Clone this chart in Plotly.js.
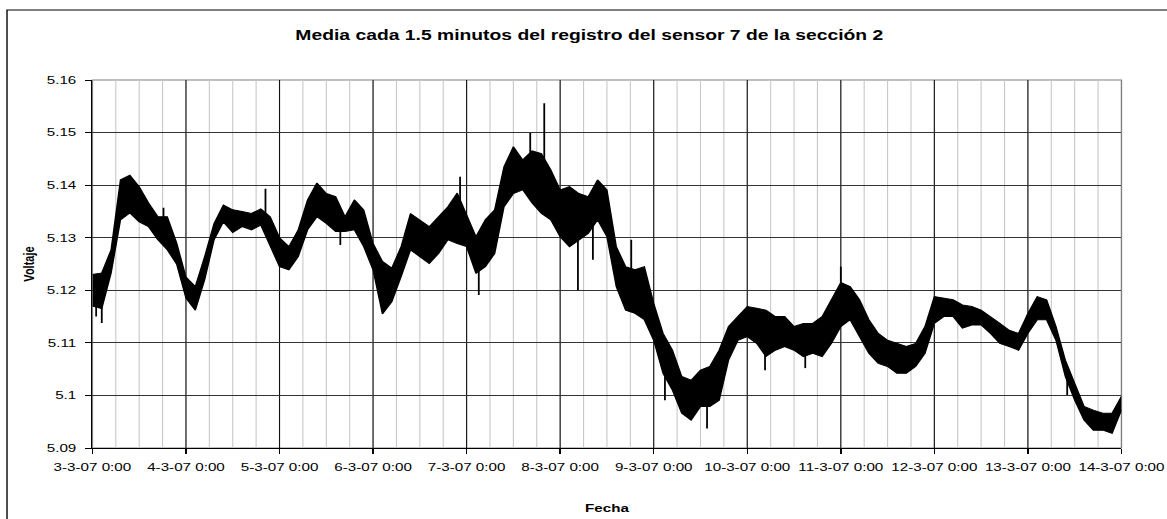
<!DOCTYPE html>
<html>
<head>
<meta charset="utf-8">
<script src="https://cdn.plot.ly/plotly-3.0.1.min.js"></script>
<style>
html,body{margin:0;padding:0;background:#fff;overflow:hidden;}
#chart{width:846px;height:519px;transform:scaleX(1.3794);transform-origin:0 0;}
</style>
</head>
<body>
<div id="chart"></div>
<script>
// Tick labels
const xTickLabels = ['3-3-07 0:00','4-3-07 0:00','5-3-07 0:00','6-3-07 0:00','7-3-07 0:00','8-3-07 0:00',
  '9-3-07 0:00','10-3-07 0:00','11-3-07 0:00','12-3-07 0:00','13-3-07 0:00','14-3-07 0:00'];
const yTickVals = [5.09,5.10,5.11,5.12,5.13,5.14,5.15,5.16];
const yTickText = ['5.09','5.1','5.11','5.12','5.13','5.14','5.15','5.16'];

// Upper and lower edge of the dense band of 1.5-minute means, read every 0.1 day (2.4 h) from 3-3-07 0:00
const voltajeMax = [
5.1230,5.1233,5.1277,5.1410,5.1419,5.1397,5.1366,5.1340,5.1340,5.1290,
5.1225,5.1207,5.1264,5.1327,5.1362,5.1353,5.1350,5.1346,5.1355,5.1340,
5.1300,5.1283,5.1315,5.1372,5.1404,5.1384,5.1378,5.1340,5.1372,5.1353,
5.1289,5.1255,5.1242,5.1283,5.1346,5.1334,5.1321,5.1340,5.1359,5.1385,
5.1345,5.1302,5.1334,5.1353,5.1435,5.1473,5.1448,5.1465,5.1460,5.1429,
5.1391,5.1397,5.1384,5.1378,5.1410,5.1391,5.1283,5.1245,5.1239,5.1245,
5.1175,5.1118,5.1086,5.1036,5.1029,5.1048,5.1055,5.1086,5.1131,5.1150,
5.1169,5.1166,5.1162,5.1150,5.1150,5.1131,5.1137,5.1137,5.1150,5.1182,
5.1215,5.1207,5.1182,5.1144,5.1118,5.1105,5.1099,5.1093,5.1099,5.1131,
5.1188,5.1185,5.1182,5.1172,5.1169,5.1162,5.1150,5.1137,5.1124,5.1118,
5.1156,5.1188,5.1182,5.1131,5.1067,5.1023,5.0979,5.0972,5.0966,5.0966,
5.0998];
const voltajeMin = [
5.1170,5.1165,5.1233,5.1334,5.1347,5.1330,5.1321,5.1296,5.1277,5.1250,
5.1185,5.1162,5.1220,5.1296,5.1330,5.1310,5.1321,5.1315,5.1324,5.1283,
5.1245,5.1239,5.1264,5.1315,5.1340,5.1327,5.1312,5.1312,5.1315,5.1283,
5.1239,5.1155,5.1178,5.1226,5.1277,5.1264,5.1251,5.1270,5.1296,5.1289,
5.1283,5.1232,5.1245,5.1270,5.1359,5.1384,5.1391,5.1366,5.1346,5.1334,
5.1302,5.1283,5.1296,5.1308,5.1334,5.1302,5.1207,5.1162,5.1156,5.1144,
5.1105,5.1042,5.1010,5.0966,5.0953,5.0979,5.0979,5.0991,5.1067,5.1105,
5.1112,5.1099,5.1074,5.1086,5.1093,5.1086,5.1074,5.1080,5.1074,5.1099,
5.1131,5.1144,5.1112,5.1080,5.1061,5.1055,5.1042,5.1042,5.1055,5.1080,
5.1137,5.1150,5.1150,5.1128,5.1134,5.1134,5.1118,5.1099,5.1093,5.1086,
5.1118,5.1144,5.1144,5.1105,5.1036,5.0991,5.0953,5.0934,5.0934,5.0928,
5.0972];

// Isolated spikes sticking out of the band: time (days after 3-3-07 0:00) and value
const picoDia = [0.04, 0.10, 0.76, 1.85, 2.65, 3.93, 4.13, 4.68, 4.83, 5.19, 5.35, 5.76, 6.12, 6.57, 7.19, 7.62, 8.00, 10.42];
const picoVolt = [5.1150,5.1138,5.1357,5.1393,5.1286,5.1416,5.1191,5.1499,5.1556,5.1200,5.1258,5.1296,5.0991,5.0937,5.1048,5.1052,5.1245,5.1001];

const start = Date.UTC(2007,2,3,0,0,0);
function fecha(d){
  const dt = new Date(start + Math.round(d*86400000));
  return dt.toISOString().slice(0,19).replace('T',' ');
}

const xEnv = voltajeMax.map((_, i) => fecha(i*0.1));
const xSp = [], ySp = [];
picoDia.forEach((d, k) => {
  const i = Math.round(d*10);
  xSp.push(fecha(d), fecha(d), null);
  ySp.push((voltajeMax[i]+voltajeMin[i])/2, picoVolt[k], null);
});
const xTickVals = xTickLabels.map((_, i) => fecha(i));

const FONT = 'Liberation Sans, Arial, sans-serif';

const traces = [
  {type:'scatter', mode:'lines', x:xEnv, y:voltajeMax, line:{color:'#000', width:1}, hoverinfo:'skip', showlegend:false},
  {type:'scatter', mode:'lines', x:xEnv, y:voltajeMin, line:{color:'#000', width:1}, fill:'tonexty', fillcolor:'#000', hoverinfo:'skip', showlegend:false},
  {type:'scatter', mode:'lines', x:xSp, y:ySp, line:{color:'#000', width:1.3}, connectgaps:false, hoverinfo:'skip', showlegend:false}
];

const layout = {
  width:846, height:519,
  margin:{l:67, r:33, t:80, b:71},
  paper_bgcolor:'#fff', plot_bgcolor:'#fff',
  font:{family:FONT, color:'#000', size:11},
  showlegend:false,
  title:{text:'Media cada 1.5 minutos del registro del sensor 7 de la sección 2',
    font:{family:FONT, size:14, weight:'bold', color:'#000'},
    xref:'container', x:0.505, xanchor:'center', yref:'container', y:1-35/519, yanchor:'middle'},
  xaxis:{
    type:'date', range:[fecha(0), fecha(11)],
    tickmode:'array', tickvals:xTickVals, ticktext:xTickLabels,
    ticks:'outside', ticklen:4.5, tickwidth:1, tickcolor:'#000', ticklabelstandoff:4,
    tickfont:{family:FONT, size:11, color:'#000'},
    showline:true, linecolor:'#000', linewidth:1,
    showgrid:true, gridcolor:'#111', gridwidth:0.8, zeroline:false,
    minor:{tickmode:'linear', tick0:fecha(0), dtick:21600000, showgrid:true, gridcolor:'#c8c8c8', gridwidth:0.8, ticks:''},
    title:{text:'Fecha', font:{family:FONT, size:11, weight:'bold', color:'#000'}, standoff:32},
    automargin:false, fixedrange:true
  },
  yaxis:{
    range:[5.09, 5.16],
    tickmode:'array', tickvals:yTickVals, ticktext:yTickText,
    ticks:'outside', ticklen:4.5, tickwidth:1, tickcolor:'#000', ticklabelstandoff:4,
    tickfont:{family:FONT, size:11, color:'#000'},
    showline:true, linecolor:'#000', linewidth:1,
    showgrid:true, gridcolor:'#333', gridwidth:1, zeroline:false,
    title:{text:'Voltaje', font:{family:FONT, size:11, weight:'bold', color:'#000'}, standoff:6},
    automargin:false, fixedrange:true
  },
  shapes:[
    {type:'rect', xref:'paper', yref:'paper', x0:0, x1:1, y0:0, y1:1,
     line:{color:'#808080', width:1}, fillcolor:'rgba(0,0,0,0)', layer:'below'},
    {type:'rect', xref:'paper', yref:'paper', x0:-0.083, x1:1.06, y0:-0.3, y1:1.1902,
     line:{color:'#000', width:1}, fillcolor:'rgba(0,0,0,0)', layer:'below'}
  ]
};

Plotly.newPlot('chart', traces, layout, {displayModeBar:false, staticPlot:true});
</script>
</body>
</html>
